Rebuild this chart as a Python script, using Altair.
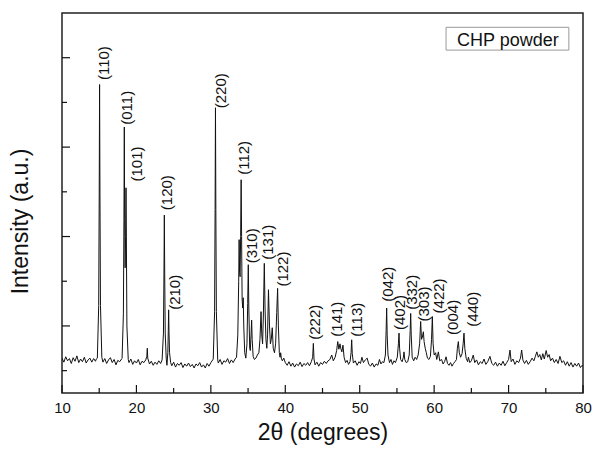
import altair as alt
import pandas as pd

# ---- XRD trace: (2theta, intensity in arbitrary units) ----
seg_10_20 = [
    (10.00, 128), (10.25, 119), (10.50, 131), (10.75, 122), (11.00, 127), (11.25, 116),
    (11.50, 129), (11.75, 121), (12.00, 133), (12.25, 118), (12.50, 126), (12.75, 120),
    (13.00, 130), (13.25, 117), (13.50, 124), (13.75, 128), (14.00, 119), (14.25, 127),
    (14.50, 121), (14.60, 126), (14.75, 128), (14.93, 246), (15.00, 493), (15.05, 740),
    (15.10, 493), (15.17, 246), (15.35, 130), (15.50, 119), (15.75, 127), (16.00, 116),
    (16.25, 124), (16.50, 129), (16.75, 118), (17.00, 125), (17.25, 113), (17.50, 123),
    (17.75, 120), (18.00, 126), (18.07, 127), (18.25, 227), (18.32, 436), (18.37, 645),
    (18.42, 440), (18.48, 330), (18.55, 400), (18.60, 509), (18.65, 390), (18.72, 200),
    (18.90, 125), (19.00, 118), (19.25, 126), (19.50, 114), (19.75, 122), (20.00, 117),
]
seg_20_30 = [
    (20.25, 125), (20.50, 113), (20.75, 121), (21.00, 118), (21.25, 124), (21.40, 132),
    (21.46, 150), (21.52, 128), (21.75, 115), (22.00, 121), (22.25, 112), (22.50, 119),
    (22.75, 114), (23.00, 122), (23.25, 116), (23.45, 124), (23.63, 184), (23.70, 316),
    (23.75, 448), (23.80, 316), (23.87, 184), (24.00, 128), (24.10, 112), (24.22, 140),
    (24.28, 190), (24.33, 236), (24.38, 185), (24.45, 140), (24.60, 118), (24.75, 111),
    (25.00, 119), (25.25, 108), (25.50, 116), (25.75, 112), (26.00, 118), (26.25, 107),
    (26.50, 115), (26.75, 110), (27.00, 117), (27.25, 109), (27.50, 114), (27.75, 106),
    (28.00, 115), (28.25, 111), (28.50, 118), (28.75, 108), (29.00, 113), (29.25, 106),
    (29.50, 116), (29.75, 110), (30.00, 118), (30.25, 124), (30.32, 126), (30.50, 232),
    (30.57, 460), (30.62, 688), (30.67, 460), (30.74, 232), (30.92, 124),
]
seg_30_40 = [
    (31.00, 117), (31.25, 125), (31.50, 114), (31.75, 122), (32.00, 119), (32.25, 127),
    (32.50, 116), (32.75, 124), (33.00, 118), (33.25, 126), (33.45, 130), (33.62, 180),
    (33.74, 300), (33.80, 393), (33.86, 320), (33.93, 310), (34.00, 400), (34.07, 527),
    (34.13, 400), (34.20, 260), (34.28, 240), (34.35, 263), (34.42, 200), (34.55, 140),
    (34.70, 128), (34.85, 160), (34.95, 250), (35.03, 337), (35.10, 240), (35.22, 150),
    (35.30, 145), (35.40, 180), (35.48, 213), (35.55, 170), (35.68, 132), (35.85, 125),
    (36.05, 128), (36.25, 135), (36.45, 140), (36.60, 170), (36.74, 232), (36.84, 180),
    (36.95, 160), (37.05, 220), (37.18, 340), (37.28, 240), (37.40, 170), (37.52, 150),
    (37.62, 180), (37.74, 281), (37.88, 200), (38.00, 160), (38.12, 170), (38.25, 196),
    (38.38, 150), (38.55, 140), (38.70, 160), (38.85, 230), (38.97, 284), (39.07, 200),
    (39.20, 140), (39.30, 130), (39.38, 140), (39.46, 128), (39.60, 122), (39.80, 128),
    (40.00, 118),
]
seg_40_50 = [
    (40.25, 112), (40.50, 120), (40.75, 110), (41.00, 117), (41.25, 108), (41.50, 115),
    (41.75, 111), (42.00, 119), (42.25, 109), (42.50, 116), (42.75, 112), (43.00, 118),
    (43.25, 111), (43.50, 120), (43.68, 130), (43.77, 161), (43.86, 126), (44.00, 113),
    (44.25, 119), (44.50, 110), (44.75, 118), (45.00, 114), (45.25, 121), (45.50, 116),
    (45.75, 122), (46.00, 125), (46.24, 135), (46.45, 122), (46.70, 130), (46.90, 145),
    (47.05, 165), (47.20, 148), (47.35, 160), (47.45, 150), (47.60, 142), (47.75, 157),
    (47.90, 130), (48.10, 118), (48.30, 123), (48.50, 114), (48.70, 120), (48.84, 140),
    (48.92, 169), (49.00, 138), (49.15, 117), (49.40, 122), (49.65, 112), (49.90, 120),
]
seg_50_60 = [
    (50.10, 116), (50.30, 130), (50.50, 118), (50.75, 124), (51.00, 128), (51.20, 115),
    (51.45, 110), (51.70, 117), (51.95, 108), (52.20, 115), (52.45, 112), (52.65, 125),
    (52.85, 115), (53.05, 120), (53.25, 118), (53.45, 135), (53.55, 190), (53.62, 240),
    (53.69, 180), (53.80, 135), (54.00, 118), (54.20, 125), (54.40, 114), (54.60, 122),
    (54.80, 118), (55.05, 130), (55.20, 160), (55.28, 184), (55.36, 150), (55.50, 125),
    (55.70, 120), (55.87, 130), (55.95, 142), (56.05, 125), (56.25, 118), (56.45, 120),
    (56.65, 135), (56.78, 190), (56.85, 228), (56.92, 180), (57.05, 130), (57.25, 122),
    (57.45, 130), (57.65, 125), (57.85, 135), (58.05, 160), (58.19, 210), (58.30, 170),
    (58.42, 175), (58.55, 187), (58.65, 165), (58.80, 150), (58.95, 140), (59.10, 128),
    (59.30, 125), (59.50, 132), (59.65, 170), (59.76, 221), (59.86, 160), (60.00, 135),
]
seg_60_70 = [
    (60.20, 140), (60.35, 125), (60.57, 142), (60.75, 122), (61.00, 125), (61.20, 115),
    (61.40, 120), (61.60, 131), (61.80, 116), (62.00, 112), (62.20, 118), (62.40, 110),
    (62.60, 116), (62.80, 120), (63.00, 125), (63.12, 150), (63.25, 165), (63.38, 140),
    (63.55, 130), (63.75, 138), (63.90, 160), (64.01, 184), (64.12, 150), (64.30, 128),
    (64.50, 120), (64.60, 130), (64.80, 118), (65.00, 122), (65.26, 135), (65.45, 118),
    (65.70, 124), (65.95, 113), (66.20, 120), (66.45, 116), (66.70, 126), (66.95, 114),
    (67.20, 120), (67.50, 132), (67.75, 116), (68.00, 112), (68.25, 119), (68.50, 110),
    (68.75, 117), (69.00, 112), (69.25, 121), (69.50, 111), (69.75, 118), (70.00, 125),
]
seg_70_80 = [
    (70.19, 146), (70.35, 120), (70.60, 126), (70.85, 114), (71.10, 122), (71.35, 118),
    (71.60, 128), (71.76, 146), (71.92, 124), (72.15, 116), (72.40, 123), (72.65, 114),
    (72.90, 120), (73.15, 128), (73.40, 122), (73.60, 132), (73.80, 142), (74.00, 130),
    (74.20, 136), (74.40, 124), (74.60, 138), (74.80, 126), (75.05, 145), (75.25, 130),
    (75.45, 136), (75.65, 122), (75.90, 128), (76.15, 118), (76.40, 125), (76.65, 116),
    (76.90, 132), (77.15, 118), (77.40, 122), (77.65, 112), (77.90, 120), (78.15, 110),
    (78.40, 118), (78.65, 108), (78.90, 116), (79.15, 110), (79.40, 117), (79.65, 107),
    (79.90, 112), (80.00, 109),
]

# ---- peak labels: Miller index, x of label centre, intensity at label bottom ----
hkl = ["(110)", "(011)", "(101)", "(120)", "(210)", "(220)", "(112)", "(310)", "(131)", "(122)",
       "(222)", "(141)", "(113)", "(042)", "(402)", "(332)", "(303)", "(422)", "(004)", "(440)"]
label_x = [15.67, 18.69, 20.04, 24.17, 25.18, 31.34, 34.48, 35.49, 37.72, 39.73,
           43.99, 46.91, 49.59, 53.84, 55.41, 56.98, 58.64, 60.65, 62.57, 65.26]
label_y = [750, 650, 523, 459, 236, 687, 538, 340, 348, 288,
           169, 176, 176, 254, 191, 236, 210, 228, 180, 198]

# ---- axis ticks ----
x_major = [10, 20, 30, 40, 50, 60, 70, 80]
x_minor = [15, 25, 35, 45, 55, 65, 75]
y_major = [200, 400, 600, 800]
y_minor = [100, 300, 500, 700]

legend_text = "CHP powder"
legend_box_x = [61.6, 78.1]
legend_box_y = [817, 868]
legend_text_pos = (69.9, 827)

X_DOMAIN = [10, 80]
Y_DOMAIN = [50, 900]
W, H = 521, 380
FONT = "Liberation Sans"

trace = pd.DataFrame(
    seg_10_20 + seg_20_30 + seg_30_40 + seg_40_50 + seg_50_60 + seg_60_70 + seg_70_80,
    columns=["tt", "I"],
)
trace["order"] = range(len(trace))

xs = alt.Scale(domain=X_DOMAIN, nice=False, zero=False)
ys = alt.Scale(domain=Y_DOMAIN, nice=False, zero=False)

x_axis = alt.Axis(values=x_major, format="d", ticks=False, grid=False, domain=False,
                  labelFontSize=15, labelFont=FONT, labelColor="#111", labelPadding=7,
                  labelFlush=False, labelOverlap=False,
                  title="2θ (degrees)", titleFont=FONT, titleFontSize=23,
                  titleFontWeight="normal", titleColor="#111", titlePadding=6)
y_axis = alt.Axis(labels=False, ticks=False, grid=False, domain=False,
                  title="Intensity (a.u.)", titleFont=FONT, titleFontSize=23,
                  titleFontWeight="normal", titleColor="#111", titlePadding=30,
                  titleY=208, titleAlign="center")

line = alt.Chart(trace).mark_line(color="#111", strokeWidth=1.0, clip=True).encode(
    x=alt.X("tt:Q", scale=xs, axis=x_axis),
    y=alt.Y("I:Q", scale=ys, axis=y_axis),
    order="order:Q",
)

xmaj = alt.Chart(pd.DataFrame({"v": x_major})).mark_rule(color="#111", strokeWidth=1.2).encode(
    x=alt.X("v:Q", scale=xs), y=alt.value(H), y2=alt.value(H - 8))
xmin = alt.Chart(pd.DataFrame({"v": x_minor})).mark_rule(color="#111", strokeWidth=1.2).encode(
    x=alt.X("v:Q", scale=xs), y=alt.value(H), y2=alt.value(H - 5))
ymaj = alt.Chart(pd.DataFrame({"v": y_major})).mark_rule(color="#111", strokeWidth=1.2).encode(
    y=alt.Y("v:Q", scale=ys), x=alt.value(0), x2=alt.value(8))
ymin = alt.Chart(pd.DataFrame({"v": y_minor})).mark_rule(color="#111", strokeWidth=1.2).encode(
    y=alt.Y("v:Q", scale=ys), x=alt.value(0), x2=alt.value(5))

labels = alt.Chart(pd.DataFrame({"t": hkl, "x": label_x, "y": label_y})).mark_text(
    angle=270, align="left", baseline="middle", fontSize=15, font=FONT, color="#111"
).encode(x=alt.X("x:Q", scale=xs), y=alt.Y("y:Q", scale=ys), text="t:N")

box = alt.Chart(pd.DataFrame({"x": [legend_box_x[0]], "x2": [legend_box_x[1]],
                              "y": [legend_box_y[0]], "y2": [legend_box_y[1]]})).mark_rect(
    fill="white", stroke="#999", strokeWidth=1
).encode(x=alt.X("x:Q", scale=xs), x2="x2:Q", y=alt.Y("y:Q", scale=ys), y2="y2:Q")

legend = alt.Chart(pd.DataFrame({"t": [legend_text], "x": [legend_text_pos[0]],
                                 "y": [legend_text_pos[1]]})).mark_text(
    align="center", baseline="alphabetic", fontSize=18, font=FONT, color="#111"
).encode(x=alt.X("x:Q", scale=xs), y=alt.Y("y:Q", scale=ys), text="t:N")

chart = alt.layer(line, xmaj, xmin, ymaj, ymin, labels, box, legend).properties(
    width=W, height=H,
    padding={"left": 62, "top": 13, "right": 12, "bottom": 62},
    autosize=alt.AutoSizeParams(type="none"),
    background="white",
).configure_view(stroke="#222", strokeWidth=1.5)

chart.save("out.html", embed_options={"renderer": "svg", "actions": False})
